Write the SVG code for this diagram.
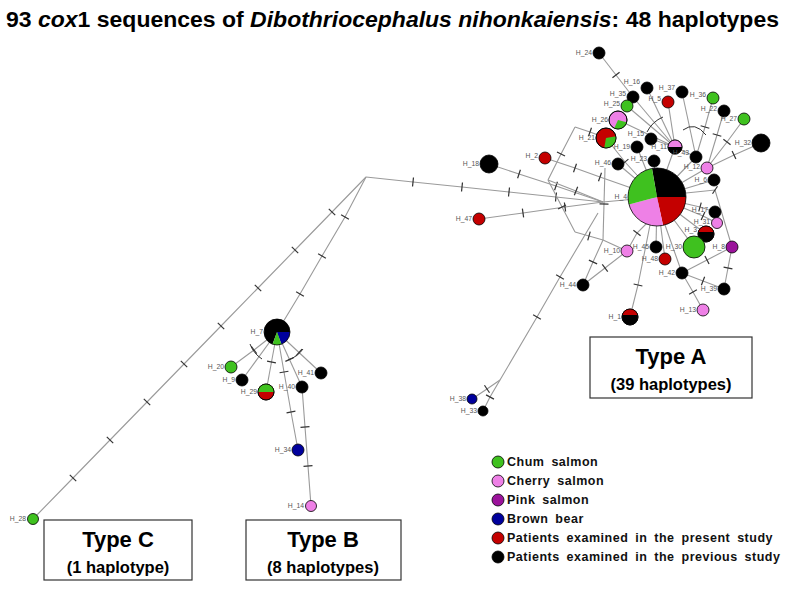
<svg xmlns="http://www.w3.org/2000/svg" width="790" height="591" viewBox="0 0 790 591">
<defs>
<marker id="t" markerUnits="userSpaceOnUse" markerWidth="3" markerHeight="10" refX="1.5" refY="5" orient="auto"><path d="M1.5,0.5 V9.5" stroke="#333" stroke-width="1.2"/></marker>
</defs>
<style>
.e{fill:none;stroke:#9a9a9a;stroke-width:1.1;marker-mid:url(#t)}
.arc{fill:none;stroke:#333;stroke-width:1}
.n{stroke:#000;stroke-width:0.8}
.gr{fill:#3fc11f}.pk{fill:#ee80e6}.pu{fill:#9b139b}.bl{fill:#00009c}.rd{fill:#c40000}.bk{fill:#000}
.lb{font-family:"Liberation Sans",Arial,sans-serif;font-size:6.8px;fill:#555;text-anchor:end}
.ti{font-family:"Liberation Sans",Arial,sans-serif;font-weight:bold;font-size:22px;fill:#000}
.bx{fill:#fff;stroke:#333;stroke-width:1.2}
.t1{font-family:"Liberation Sans",Arial,sans-serif;font-weight:bold;font-size:22px;text-anchor:middle}
.t2{font-family:"Liberation Sans",Arial,sans-serif;font-weight:bold;font-size:16.5px;text-anchor:middle}
.lg{font-family:"Liberation Sans",Arial,sans-serif;font-weight:bold;font-size:12.5px;letter-spacing:0.5px;word-spacing:3px;fill:#111}
</style>
<rect width="790" height="591" fill="#fff"/>
<text class="ti" x="6" y="27" textLength="773" lengthAdjust="spacingAndGlyphs">93 <tspan font-style="italic">cox</tspan>1 sequences of <tspan font-style="italic">Dibothriocephalus nihonkaiensis</tspan>: 48 haplotypes</text>

<g id="connectors">
<path class="e" d="M33,519 L73,478 L110,440 L147,402 L184,364 L221,326 L258,288 L295,250 L332,212 L366,177"/>
<path class="e" d="M366,177 L345,217 L322,256 L300,294 L277,332"/>
<path class="e" d="M366,177 L413,182 L462,187 L509,192 L556,197 L603,202"/>
<path class="e" d="M489,164 L519,174 L556,186 L603,202"/>
<path class="e" d="M479,219 L523,213 L565,207 L603,202"/>
<path class="e" d="M545,158 L575,168 L600,177 L657,197"/>
<path class="e" d="M603,202 L657,197"/>
<path class="e" d="M606,138 L590,132 L575,127"/>
<path class="e" d="M575,127 L561,154 L548,180"/>
<path class="e" d="M548,180 L562,207 L575,232"/>
<path class="e" d="M548,180 L576,191 L603,202"/>
<path class="e" d="M605,168 L604,204 L603,240"/>
<path class="e" d="M575,232 L589,236 L603,240"/>
<path class="e" d="M603,240 L627,251"/>
<path class="e" d="M606,138 L625,162 L657,197"/>
<path class="e" d="M598,213 L560,277 L537,317 L500,380"/>
<path class="e" d="M500,380 L487,389 L472,399"/>
<path class="e" d="M500,380 L490,397 L483,411"/>
<path class="e" d="M599,53 L616,75 L633,97"/>
<path class="e" d="M647,88 L675,147"/>
<path class="e" d="M633,97 L675,147"/>
<path class="e" d="M627,106 L675,147"/>
<path class="e" d="M618,120 L675,147"/>
<path class="e" d="M668,102 L675,147"/>
<path class="e" d="M651,139 L675,147"/>
<path class="e" d="M675,147 L657,197"/>
<path class="e" d="M682,92 L696,157"/>
<path class="e" d="M713,98 L705,127 L696,157"/>
<path class="e" d="M696,157 L675,147"/>
<path class="e" d="M696,157 L657,197"/>
<path class="e" d="M724,111 L717,135 L707,168"/>
<path class="e" d="M744,119 L727,142 L707,168"/>
<path class="e" d="M761,143 L734,155 L707,168"/>
<path class="e" d="M707,168 L657,197"/>
<path class="e" d="M637,147 L657,197"/>
<path class="e" d="M654,161 L657,197"/>
<path class="e" d="M618,164 L657,197"/>
<path class="e" d="M714,180 L657,197"/>
<path class="e" d="M715,212 L700,207 L657,197"/>
<path class="e" d="M717,223 L703,216 L657,197"/>
<path class="e" d="M706,234 L657,197"/>
<path class="e" d="M694,247 L657,197"/>
<path class="e" d="M686,193 L715,190 L732,247"/>
<path class="e" d="M656,247 L657,197"/>
<path class="e" d="M665,259 L657,197"/>
<path class="e" d="M682,273 L665,225"/>
<path class="e" d="M682,273 L707,260 L732,247"/>
<path class="e" d="M682,273 L693,292 L703,310"/>
<path class="e" d="M682,273 L703,281 L724,289"/>
<path class="e" d="M732,247 L728,268 L724,289"/>
<path class="e" d="M627,251 L637,233 L650,220"/>
<path class="e" d="M627,251 L605,268 L583,285"/>
<path class="e" d="M583,285 L593,262 L603,240"/>
<path class="e" d="M630,317 L638,285 L650,225"/>
<path class="e" d="M277,332 L254,350 L231,367"/>
<path class="e" d="M277,332 L242,380"/>
<path class="e" d="M277,332 L271.5,362 L266,392"/>
<path class="e" d="M277,332 L284,372 L291,412 L298,450"/>
<path class="e" d="M277,332 L289.5,359.5 L302,387"/>
<path class="e" d="M302,387 L305,427 L308,466 L311,506"/>
<path class="e" d="M277,332 L299,352.5 L321,373"/>
<path class="arc" d="M647,132 A32,32 0 0 1 663,117"/>
<path class="arc" d="M683,130 Q695,121 706,135"/>
<path class="arc" d="M250,344 A30,30 0 0 0 262,359"/>
<path class="arc" d="M288,360 A30,30 0 0 0 303,349"/>
</g>

<g id="H_4">
<path class="bk" d="M657,197 L651.96,168.44 A29,29 0 0 1 686,197 Z"/>
<path class="rd" d="M657,197 L686,197 A29,29 0 0 1 663.03,225.37 Z"/>
<path class="pk" d="M657,197 L663.03,225.37 A29,29 0 0 1 628.99,204.51 Z"/>
<path class="gr" d="M657,197 L628.99,204.51 A29,29 0 0 1 651.96,168.44 Z"/>
<circle cx="657" cy="197" r="29" fill="none" stroke="#000" stroke-width="0.8"/>
<text class="lb" x="627" y="199">H_4</text>
</g>
<g id="H_24"><circle class="n bk" cx="599" cy="53" r="6"/><text class="lb" x="592" y="55">H_24</text></g>
<g id="H_16"><circle class="n bk" cx="647" cy="88" r="6"/><text class="lb" x="640" y="84">H_16</text></g>
<g id="H_35"><circle class="n bk" cx="633" cy="97" r="6"/><text class="lb" x="626" y="96">H_35</text></g>
<g id="H_25"><circle class="n gr" cx="627" cy="106" r="6"/><text class="lb" x="620" y="106">H_25</text></g>
<g id="H_26">
<circle class="n pk" cx="618" cy="120" r="9"/>
<path class="gr" d="M618,120 L626.69,122.33 A9,9 0 0 1 614.2,128.16 Z"/>
<circle cx="618" cy="120" r="9" fill="none" stroke="#000" stroke-width="0.8"/>
<text class="lb" x="608" y="122">H_26</text>
</g>
<g id="H_21">
<circle class="n rd" cx="606" cy="138" r="10"/>
<path class="gr" d="M606,138 L615.85,136.26 A10,10 0 0 1 604.26,147.85 Z"/>
<circle cx="606" cy="138" r="10" fill="none" stroke="#000" stroke-width="0.8"/>
<text class="lb" x="595" y="140">H_21</text>
</g>
<g id="H_5"><circle class="n rd" cx="668" cy="102" r="6"/><text class="lb" x="661" y="101">H_5</text></g>
<g id="H_37"><circle class="n bk" cx="682" cy="92" r="6"/><text class="lb" x="675" y="90">H_37</text></g>
<g id="H_36"><circle class="n gr" cx="713" cy="98" r="6"/><text class="lb" x="706" y="97">H_36</text></g>
<g id="H_22"><circle class="n bk" cx="724" cy="111" r="6"/><text class="lb" x="717" y="111">H_22</text></g>
<g id="H_27"><circle class="n gr" cx="744" cy="119" r="6"/><text class="lb" x="737" y="121">H_27</text></g>
<g id="H_32"><circle class="n bk" cx="761" cy="143" r="9"/><text class="lb" x="751" y="145">H_32</text></g>
<g id="H_15"><circle class="n bk" cx="651" cy="139" r="6"/><text class="lb" x="644" y="136">H_15</text></g>
<g id="H_19"><circle class="n bk" cx="637" cy="147" r="6"/><text class="lb" x="630" y="149">H_19</text></g>
<g id="H_11">
<circle class="n bk" cx="675" cy="147" r="7"/>
<path class="pk" d="M668,147 A7,7 0 0 1 682,147 Z"/>
<circle cx="675" cy="147" r="7" fill="none" stroke="#000" stroke-width="0.8"/>
<text class="lb" x="667" y="149">H_11</text>
</g>
<g id="H_43"><circle class="n bk" cx="696" cy="157" r="6"/><text class="lb" x="689" y="155">H_43</text></g>
<g id="H_23"><circle class="n bk" cx="654" cy="161" r="6"/><text class="lb" x="647" y="161">H_23</text></g>
<g id="H_46"><circle class="n bk" cx="618" cy="164" r="6"/><text class="lb" x="611" y="165">H_46</text></g>
<g id="H_2"><circle class="n rd" cx="545" cy="158" r="6"/><text class="lb" x="538" y="158">H_2</text></g>
<g id="H_18"><circle class="n bk" cx="489" cy="164" r="9"/><text class="lb" x="479" y="166">H_18</text></g>
<g id="H_47"><circle class="n rd" cx="479" cy="219" r="6"/><text class="lb" x="472" y="221">H_47</text></g>
<g id="H_12"><circle class="n pk" cx="707" cy="168" r="6"/><text class="lb" x="700" y="169">H_12</text></g>
<g id="H_6"><circle class="n bk" cx="714" cy="180" r="6"/><text class="lb" x="707" y="182">H_6</text></g>
<g id="H_17"><circle class="n bk" cx="715" cy="212" r="6"/><text class="lb" x="708" y="212">H_17</text></g>
<g id="H_31"><circle class="n pk" cx="717" cy="223" r="5.5"/><text class="lb" x="710" y="224">H_31</text></g>
<g id="H_3">
<circle class="n bk" cx="706" cy="234" r="8"/>
<path class="rd" d="M698.25,232 A8,8 0 0 1 713.75,232 Z"/>
<circle cx="706" cy="234" r="8" fill="none" stroke="#000" stroke-width="0.8"/>
<text class="lb" x="697" y="232">H_3</text>
</g>
<g id="H_30"><circle class="n gr" cx="694" cy="247" r="11"/><text class="lb" x="682" y="249">H_30</text></g>
<g id="H_8"><circle class="n pu" cx="732" cy="247" r="6"/><text class="lb" x="725" y="249">H_8</text></g>
<g id="H_45"><circle class="n bk" cx="656" cy="247" r="6"/><text class="lb" x="649" y="249">H_45</text></g>
<g id="H_10"><circle class="n pk" cx="627" cy="251" r="6"/><text class="lb" x="620" y="253">H_10</text></g>
<g id="H_48"><circle class="n rd" cx="665" cy="259" r="6"/><text class="lb" x="658" y="261">H_48</text></g>
<g id="H_42"><circle class="n bk" cx="682" cy="273" r="6"/><text class="lb" x="675" y="275">H_42</text></g>
<g id="H_39"><circle class="n bk" cx="724" cy="289" r="6"/><text class="lb" x="717" y="291">H_39</text></g>
<g id="H_13"><circle class="n pk" cx="703" cy="310" r="6"/><text class="lb" x="696" y="312">H_13</text></g>
<g id="H_1">
<circle class="n bk" cx="630" cy="317" r="8"/>
<path class="rd" d="M622.25,315 A8,8 0 0 1 637.75,315 Z"/>
<circle cx="630" cy="317" r="8" fill="none" stroke="#000" stroke-width="0.8"/>
<text class="lb" x="621" y="319">H_1</text>
</g>
<g id="H_44"><circle class="n bk" cx="583" cy="285" r="6"/><text class="lb" x="576" y="287">H_44</text></g>
<g id="H_38"><circle class="n bl" cx="472" cy="399" r="5"/><text class="lb" x="466" y="401">H_38</text></g>
<g id="H_33"><circle class="n bk" cx="483" cy="411" r="5"/><text class="lb" x="477" y="413">H_33</text></g>

<g id="H_7">
<path class="bk" d="M277,332 L272.55,344.22 A13,13 0 1 1 290,332 Z"/>
<path class="bl" d="M277,332 L290,332 A13,13 0 0 1 281.45,344.22 Z"/>
<path class="gr" d="M277,332 L281.45,344.22 A13,13 0 0 1 272.55,344.22 Z"/>
<circle cx="277" cy="332" r="13" fill="none" stroke="#000" stroke-width="0.8"/>
<text class="lb" x="263" y="334">H_7</text>
</g>
<g id="H_20"><circle class="n gr" cx="231" cy="367" r="6"/><text class="lb" x="224" y="369">H_20</text></g>
<g id="H_9"><circle class="n bk" cx="242" cy="380" r="6"/><text class="lb" x="235" y="382">H_9</text></g>
<g id="H_29">
<circle class="n rd" cx="266" cy="392" r="8"/>
<path class="gr" d="M258,392 A8,8 0 0 1 274,392 Z"/>
<circle cx="266" cy="392" r="8" fill="none" stroke="#000" stroke-width="0.8"/>
<text class="lb" x="257" y="394">H_29</text>
</g>
<g id="H_40"><circle class="n bk" cx="302" cy="387" r="6"/><text class="lb" x="295" y="389">H_40</text></g>
<g id="H_41"><circle class="n bk" cx="321" cy="373" r="6"/><text class="lb" x="314" y="375">H_41</text></g>
<g id="H_34"><circle class="n bl" cx="298" cy="450" r="6"/><text class="lb" x="291" y="452">H_34</text></g>
<g id="H_14"><circle class="n pk" cx="311" cy="506" r="5.5"/><text class="lb" x="304" y="508">H_14</text></g>
<g id="H_28"><circle class="n gr" cx="33" cy="519" r="5.5"/><text class="lb" x="26" y="521">H_28</text></g>

<g id="typeA"><rect class="bx" x="590" y="337" width="162" height="61"/><text class="t1" x="671" y="364">Type A</text><text class="t2" x="671" y="390">(39 haplotypes)</text></g>
<g id="typeC"><rect class="bx" x="44" y="520" width="148" height="60"/><text class="t1" x="118" y="547">Type C</text><text class="t2" x="118" y="573">(1 haplotype)</text></g>
<g id="typeB"><rect class="bx" x="246" y="520" width="155" height="60"/><text class="t1" x="323" y="547">Type B</text><text class="t2" x="323" y="573">(8 haplotypes)</text></g>

<g id="legend">
<circle class="n gr" cx="498" cy="462" r="6"/><text class="lg" x="507" y="466">Chum salmon</text>
<circle class="n pk" cx="498" cy="481" r="6"/><text class="lg" x="507" y="485">Cherry salmon</text>
<circle class="n pu" cx="498" cy="500" r="6"/><text class="lg" x="507" y="504">Pink salmon</text>
<circle class="n bl" cx="498" cy="519" r="6"/><text class="lg" x="507" y="523">Brown bear</text>
<circle class="n rd" cx="498" cy="538" r="6"/><text class="lg" x="507" y="542">Patients examined in the present study</text>
<circle class="n bk" cx="498" cy="557" r="6"/><text class="lg" x="507" y="561">Patients examined in the previous study</text>
</g>
</svg>
